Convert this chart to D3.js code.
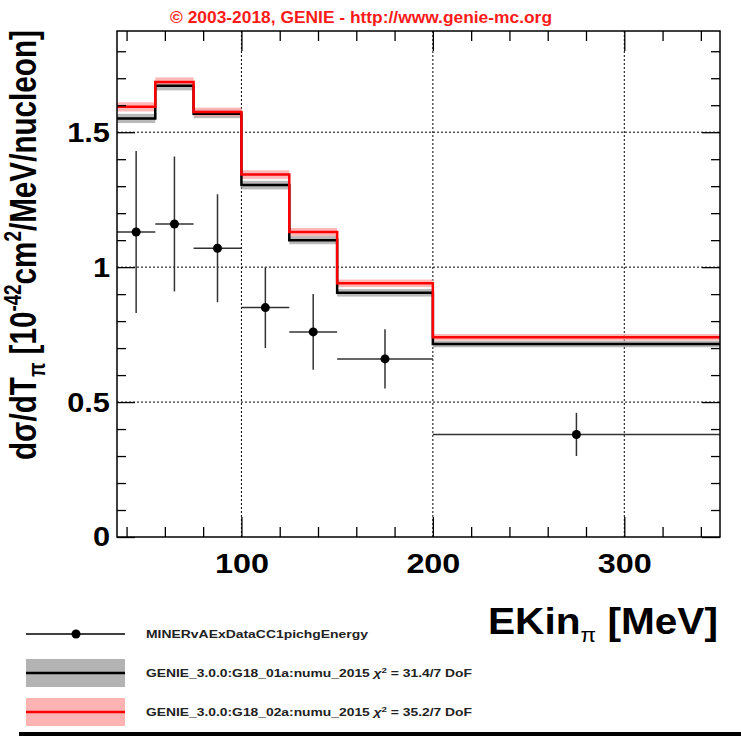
<!DOCTYPE html>
<html>
<head>
<meta charset="utf-8">
<script src="https://cdn.jsdelivr.net/npm/d3@7"></script>
<style>
  html, body { margin: 0; padding: 0; background: #fff; }
  svg { display: block; font-family: "Liberation Sans", Arial, Helvetica, sans-serif; }
</style>
</head>
<body>
<svg id="chart" width="741" height="738"></svg>
<script>
// Bin edges of the pion kinetic energy distribution (MeV)
const binEdges = [35, 55, 75, 100, 125, 150, 200, 350];

// MINERvA data: cross-section per bin and its uncertainty
const dataValues = [1.13, 1.16, 1.07, 0.85, 0.76, 0.66, 0.38];
const dataErrors = [0.30, 0.25, 0.20, 0.15, 0.14, 0.11, 0.08];

// GENIE predictions (10^-42 cm^2/MeV/nucleon) and their band half-widths
const genie01Values = [1.551, 1.672, 1.568, 1.304, 1.100, 0.905, 0.715];
const genie01Band   = [0.017, 0.017, 0.016, 0.016, 0.015, 0.014, 0.012];
const genie02Values = [1.594, 1.686, 1.575, 1.343, 1.130, 0.940, 0.740];
const genie02Band   = [0.017, 0.017, 0.016, 0.016, 0.015, 0.014, 0.012];

// Axis ticks
const xMajorTicks = [100, 200, 300];
const xMinorTicks = [40, 60, 80, 120, 140, 160, 180, 220, 240, 260, 280, 320, 340];
const yMajorTicks = [0, 0.5, 1, 1.5];
const yMinorTicks = [0.1, 0.2, 0.3, 0.4, 0.6, 0.7, 0.8, 0.9, 1.1, 1.2, 1.3, 1.4, 1.6, 1.7, 1.8];

const legendEntries = [
  { kind: "data",  label: "MINERvAExDataCC1pichgEnergy" },
  { kind: "g01",   label: "GENIE_3.0.0:G18_01a:numu_2015 ", chi: " = 31.4/7 DoF" },
  { kind: "g02",   label: "GENIE_3.0.0:G18_02a:numu_2015 ", chi: " = 35.2/7 DoF" }
];

const svg = d3.select("#chart");
const plot = { left: 117, right: 720, top: 31, bottom: 537 };

const x = d3.scaleLinear().domain([35, 350]).range([plot.left, plot.right]);
const y = d3.scaleLinear().domain([0, 1.875]).range([plot.bottom, plot.top]);

// Title
svg.append("text")
  .attr("x", 170).attr("y", 23)
  .attr("fill", "#ff1a1a")
  .attr("font-weight", "bold")
  .attr("font-size", 16)
  .attr("textLength", 382).attr("lengthAdjust", "spacingAndGlyphs")
  .text("\u00A9 2003-2018, GENIE - http://www.genie-mc.org");

// Dotted grid
const grid = svg.append("g").attr("stroke", "#000").attr("stroke-width", 1)
  .attr("stroke-dasharray", "2,2");
grid.selectAll("line.gx").data(xMajorTicks).join("line")
  .attr("x1", d => x(d)).attr("x2", d => x(d))
  .attr("y1", plot.top).attr("y2", plot.bottom);
grid.selectAll("line.gy").data(yMajorTicks.filter(d => d > 0)).join("line")
  .attr("x1", plot.left).attr("x2", plot.right)
  .attr("y1", d => y(d)).attr("y2", d => y(d));

// Histogram helpers
const bins = dataValues.map((_, i) => ({ x0: binEdges[i], x1: binEdges[i + 1] }));
function stepPoints(values) {
  const pts = [];
  values.forEach((v, i) => { pts.push([binEdges[i], v]); pts.push([binEdges[i + 1], v]); });
  return pts;
}
const stepLine = d3.line().x(d => x(d[0])).y(d => y(d[1]));

function drawBand(values, band, fill, opacity) {
  svg.append("g").selectAll("rect").data(values).join("rect")
    .attr("x", (d, i) => x(binEdges[i]))
    .attr("width", (d, i) => x(binEdges[i + 1]) - x(binEdges[i]))
    .attr("y", (d, i) => y(d + band[i]))
    .attr("height", (d, i) => y(d - band[i]) - y(d + band[i]))
    .attr("fill", fill).attr("fill-opacity", opacity);
}
drawBand(genie01Values, genie01Band, "#a8a8a8", 0.8);
drawBand(genie02Values, genie02Band, "#ff9a9a", 0.7);

svg.append("path").datum(stepPoints(genie01Values))
  .attr("d", stepLine).attr("fill", "none")
  .attr("stroke", "#000").attr("stroke-width", 2.5);
svg.append("path").datum(stepPoints(genie02Values))
  .attr("d", stepLine).attr("fill", "none")
  .attr("stroke", "#ff0000").attr("stroke-width", 2.5);

// Data points with error bars
const pts = svg.append("g").selectAll("g").data(dataValues).join("g");
pts.append("line")
  .attr("x1", (d, i) => x(bins[i].x0)).attr("x2", (d, i) => x(bins[i].x1))
  .attr("y1", d => y(d)).attr("y2", d => y(d))
  .attr("stroke", "#333").attr("stroke-width", 1.5);
pts.append("line")
  .attr("x1", (d, i) => x((bins[i].x0 + bins[i].x1) / 2))
  .attr("x2", (d, i) => x((bins[i].x0 + bins[i].x1) / 2))
  .attr("y1", (d, i) => y(d + dataErrors[i])).attr("y2", (d, i) => y(d - dataErrors[i]))
  .attr("stroke", "#333").attr("stroke-width", 1.5);
pts.append("circle")
  .attr("cx", (d, i) => x((bins[i].x0 + bins[i].x1) / 2))
  .attr("cy", d => y(d)).attr("r", 4.5).attr("fill", "#000");

// Axes: ticks pointing inward on all four sides
function styleAxis(g) {
  g.select(".domain").remove();
  g.selectAll(".tick line").attr("stroke", "#000").attr("stroke-width", 1.3);
}
svg.append("g").attr("transform", `translate(0,${plot.bottom})`)
  .call(d3.axisBottom(x).tickValues(xMinorTicks).tickSize(-10).tickFormat(""))
  .call(styleAxis);
const xAxisG = svg.append("g").attr("transform", `translate(0,${plot.bottom})`)
  .call(d3.axisBottom(x).tickValues(xMajorTicks).tickSize(-20).tickPadding(16).tickFormat(d3.format("d")))
  .call(styleAxis);
xAxisG.selectAll("text").attr("font-size", 28).attr("font-weight", "bold")
  .attr("font-family", "'Liberation Sans', Arial, sans-serif").attr("fill", "#000")
  .attr("textLength", 54).attr("lengthAdjust", "spacingAndGlyphs");

svg.append("g").attr("transform", `translate(0,${plot.top})`)
  .call(d3.axisTop(x).tickValues(xMinorTicks).tickSize(-10).tickFormat(""))
  .call(styleAxis);
svg.append("g").attr("transform", `translate(0,${plot.top})`)
  .call(d3.axisTop(x).tickValues(xMajorTicks).tickSize(-20).tickFormat(""))
  .call(styleAxis);

svg.append("g").attr("transform", `translate(${plot.left},0)`)
  .call(d3.axisLeft(y).tickValues(yMinorTicks).tickSize(-9).tickFormat(""))
  .call(styleAxis);
const yAxisG = svg.append("g").attr("transform", `translate(${plot.left},0)`)
  .call(d3.axisLeft(y).tickValues(yMajorTicks).tickSize(-18).tickPadding(7).tickFormat(d => d3.format("")(d)))
  .call(styleAxis);
yAxisG.selectAll("text").attr("font-size", 28).attr("font-weight", "bold")
  .attr("font-family", "'Liberation Sans', Arial, sans-serif").attr("fill", "#000")
  .each(function () {
    // slightly wider glyphs, as in the rest of the horizontal lettering
    const w = this.getComputedTextLength();
    d3.select(this).attr("textLength", w * 1.1).attr("lengthAdjust", "spacingAndGlyphs");
  });

svg.append("g").attr("transform", `translate(${plot.right},0)`)
  .call(d3.axisRight(y).tickValues(yMinorTicks).tickSize(-9).tickFormat(""))
  .call(styleAxis);
svg.append("g").attr("transform", `translate(${plot.right},0)`)
  .call(d3.axisRight(y).tickValues(yMajorTicks).tickSize(-18).tickFormat(""))
  .call(styleAxis);

// Frame
svg.append("rect")
  .attr("x", plot.left).attr("y", plot.top)
  .attr("width", plot.right - plot.left).attr("height", plot.bottom - plot.top)
  .attr("fill", "none").attr("stroke", "#000").attr("stroke-width", 1.5);

// Y title
const yTitle = svg.append("text")
  .attr("transform", "translate(36,460) rotate(-90) scale(1,1.22)")
  .attr("font-size", 30).attr("font-weight", "bold").attr("fill", "#000")
  .attr("textLength", 430).attr("lengthAdjust", "spacingAndGlyphs");
yTitle.append("tspan").text("d\u03C3/dT");
yTitle.append("tspan").attr("font-size", 19).attr("dy", 7).text("\u03C0");
yTitle.append("tspan").attr("dy", -7).text(" [10");
yTitle.append("tspan").attr("font-size", 19).attr("dy", -12).text("-42");
yTitle.append("tspan").attr("dy", 12).text("cm");
yTitle.append("tspan").attr("font-size", 19).attr("dy", -12).text("2");
yTitle.append("tspan").attr("dy", 12).text("/MeV/nucleon]");

// X title
const xTitle = svg.append("text")
  .attr("x", 488).attr("y", 634)
  .attr("font-size", 36).attr("font-weight", "bold").attr("fill", "#000")
  .attr("textLength", 230).attr("lengthAdjust", "spacingAndGlyphs");
xTitle.append("tspan").text("EKin");
xTitle.append("tspan").attr("font-size", 20).attr("font-weight", "normal").attr("dy", 8).text("\u03C0");
xTitle.append("tspan").attr("dy", -8).text(" [MeV]");

// Legend
const legY = [634, 673, 712];
const leg = svg.append("g");
legendEntries.forEach((e, i) => {
  const cy = legY[i];
  if (e.kind === "data") {
    leg.append("line").attr("x1", 26).attr("x2", 125).attr("y1", cy).attr("y2", cy)
      .attr("stroke", "#000").attr("stroke-width", 1.3);
    leg.append("circle").attr("cx", 76).attr("cy", cy).attr("r", 4.5).attr("fill", "#000");
  } else {
    leg.append("rect").attr("x", 26).attr("y", cy - 14).attr("width", 99).attr("height", 28)
      .attr("fill", e.kind === "g01" ? "#b3b3b3" : "#ffb3b3");
    leg.append("line").attr("x1", 26).attr("x2", 125).attr("y1", cy).attr("y2", cy)
      .attr("stroke", e.kind === "g01" ? "#000" : "#ff0000").attr("stroke-width", 2.5);
  }
  const t = leg.append("text").attr("x", 146).attr("y", cy + 4)
    .attr("font-size", 10).attr("font-weight", "bold").attr("fill", "#222")
    .attr("textLength", e.kind === "data" ? 222 : 326).attr("lengthAdjust", "spacingAndGlyphs");
  t.append("tspan").text(e.label);
  if (e.chi) {
    t.append("tspan").attr("font-style", "italic").text("\u03C7");
    t.append("tspan").attr("font-size", 7).attr("dy", -4).text("2");
    t.append("tspan").attr("dy", 4).text(e.chi);
  }
});

// Bottom rule
svg.append("line").attr("x1", 19).attr("x2", 741).attr("y1", 734).attr("y2", 734)
  .attr("stroke", "#000").attr("stroke-width", 4);
</script>
</body>
</html>
